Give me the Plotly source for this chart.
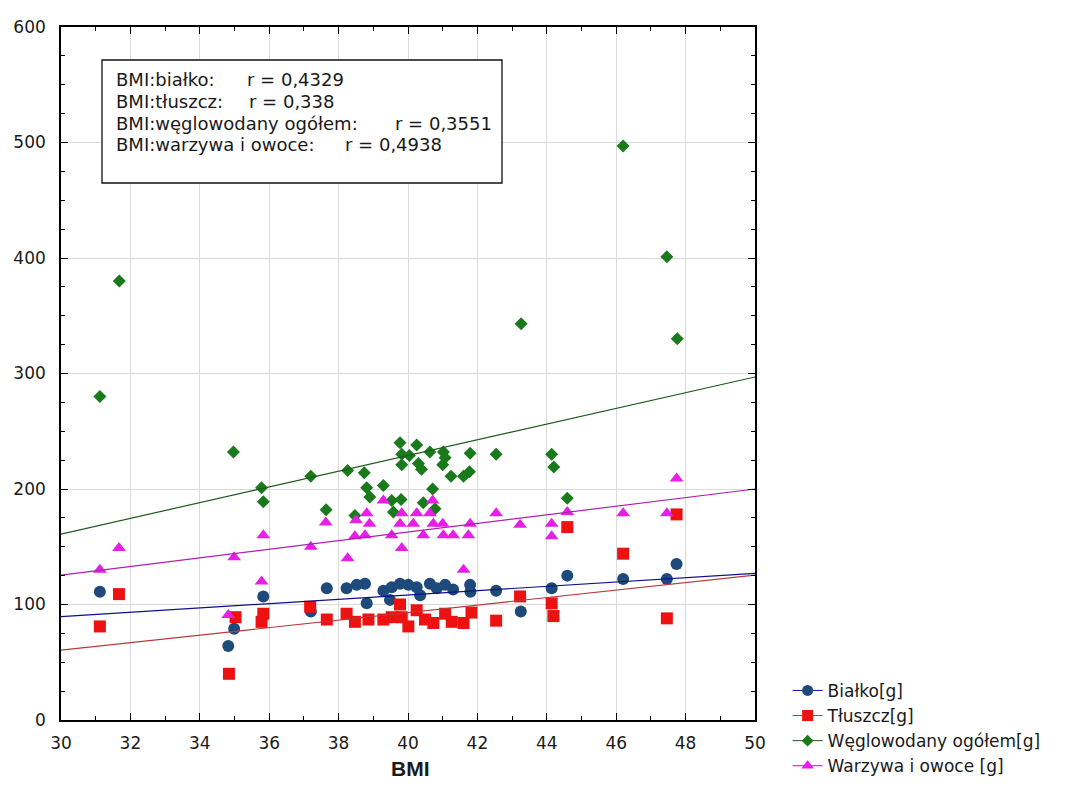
import plotly.graph_objects as go

# ---- data ----
protein_bmi = [31.12, 34.82, 34.99, 35.83, 37.2, 37.66, 38.23, 38.52, 38.76, 38.81, 39.29, 39.48, 39.53, 39.77,
               40.01, 40.25, 40.35, 40.63, 40.83, 41.07, 41.3, 41.79, 41.8, 42.54, 43.25, 44.14, 44.59, 46.2, 47.46, 47.74]
protein_g = [111, 64, 79, 107, 94, 114, 114, 117, 118, 101, 112, 104, 115, 118,
             117, 115, 108, 118, 114, 117, 113, 117, 111, 112, 94, 114, 125, 122, 122, 135]

fat_bmi = [31.12, 31.67, 34.84, 35.03, 35.78, 35.83, 37.18, 37.66, 38.23, 38.47, 38.86, 39.29, 39.53, 39.77, 39.82,
           40.01, 40.25, 40.49, 40.73, 41.07, 41.26, 41.6, 41.83, 42.54, 43.23, 44.14, 44.19, 44.59, 46.2, 47.46, 47.74]
fat_g = [81, 109, 40, 89, 85, 92, 98, 87, 92, 85, 87, 87, 89, 100, 89,
         81, 95, 87, 84, 92, 85, 84, 93, 86, 107, 101, 90, 167, 144, 88, 178]

carb_bmi = [31.12, 31.68, 34.97, 35.78, 35.83, 37.2, 37.64, 38.26, 38.47, 38.74, 38.81, 38.9, 39.29, 39.53, 39.58,
            39.77, 39.8, 39.82, 39.82, 40.04, 40.25, 40.3, 40.39, 40.44, 40.63, 40.71, 40.78, 41.0, 41.02, 41.07,
            41.24, 41.6, 41.77, 41.79, 42.54, 43.26, 44.14, 44.2, 44.59, 46.2, 47.46, 47.76]
carb_g = [280, 380, 232, 201, 189, 211, 182, 216, 177, 214, 201, 193, 203, 190, 180,
          240, 191, 230, 221, 229, 238, 222, 217, 188, 232, 200, 183, 221, 232, 227,
          211, 211, 215, 231, 230, 343, 230, 219, 192, 497, 401, 330]

veg_bmi = [31.12, 31.67, 34.82, 34.99, 35.78, 35.83, 37.2, 37.63, 38.26, 38.47, 38.5, 38.76, 38.81, 38.89, 39.29,
           39.53, 39.77, 39.82, 39.82, 40.15, 40.25, 40.44, 40.63, 40.71, 40.73, 41.0, 41.02, 41.3, 41.6, 41.74,
           41.79, 42.54, 43.23, 44.14, 44.14, 44.59, 46.2, 47.46, 47.74]
veg_g = [130, 149, 91, 141, 120, 160, 150, 171, 140, 159, 173, 160, 179, 170, 190,
         160, 170, 179, 149, 170, 179, 160, 179, 190, 170, 170, 160, 160, 130, 160,
         170, 179, 169, 170, 159, 180, 179, 179, 209]

# fitted regression lines (values at BMI 30 and BMI 50)
fit_bmi = [30, 50]
protein_fit = [89.5, 127]
fat_fit = [60.5, 125.5]
carb_fit = [161, 297]
veg_fit = [125.5, 200]

series_names = ["Białko[g]", "Tłuszcz[g]", "Węglowodany ogółem[g]", "Warzywa i owoce [g]"]
r_labels = ["BMI:białko:", "BMI:tłuszcz:", "BMI:węglowodany ogółem:", "BMI:warzywa i owoce:"]
r_values = ["0,4329", "0,338", "0,3551", "0,4938"]
x_title = "BMI"

x_ticks = [30, 32, 34, 36, 38, 40, 42, 44, 46, 48, 50]
y_ticks = [0, 100, 200, 300, 400, 500, 600]

# ---- styles ----
FONT = "DejaVu Sans, Liberation Sans, sans-serif"
TXT = "#1a1a1a"
styles = [
    dict(symbol="circle", color="#1d4a7a", size=12, line="#0f0f8c"),
    dict(symbol="square", color="#ee1111", size=12, line="#b83a3a"),
    dict(symbol="diamond", color="#197a1c", size=10, line="#1e5a1e"),
    dict(symbol="triangle-up", color="#e61ee6", size=12, line="#b020b0"),
]
xs = [protein_bmi, fat_bmi, carb_bmi, veg_bmi]
ys = [protein_g, fat_g, carb_g, veg_g]
fits = [protein_fit, fat_fit, carb_fit, veg_fit]

fig = go.Figure()
for name, st, x, y in zip(series_names, styles, xs, ys):
    fig.add_trace(go.Scatter(
        x=x, y=y, mode="markers", name=name, legendgroup=name, showlegend=False,
        marker=dict(symbol=st["symbol"], color=st["color"], size=st["size"], line=dict(width=0)),
    ))
for name, st, f in zip(series_names, styles, fits):
    fig.add_trace(go.Scatter(
        x=fit_bmi, y=f, mode="lines", name=name, legendgroup=name, showlegend=False,
        line=dict(color=st["line"], width=1.2), hoverinfo="skip",
    ))
# legend entries (line + marker)
for name, st in zip(series_names, styles):
    fig.add_trace(go.Scatter(
        x=[None], y=[None], mode="lines+markers", name=name, legendgroup=name,
        marker=dict(symbol=st["symbol"], color=st["color"], size=st["size"] - 1),
        line=dict(color=st["line"], width=1),
    ))

# ---- correlation box (plot area: 694 x 693 px) ----
PW, PH = 694.0, 693.0
def px_x(p):
    return p / PW
def px_y(p):
    return 1 - p / PH

fig.add_shape(type="rect", xref="paper", yref="paper",
              x0=px_x(41), x1=px_x(441), y0=px_y(156), y1=px_y(33),
              line=dict(color="#111111", width=1.3), fillcolor="white", layer="above")
label_x = px_x(53)
value_x = [px_x(184), px_x(186), px_x(332), px_x(282)]
for i, (lab, val) in enumerate(zip(r_labels, r_values)):
    yy = px_y(52.5 + i * 21.8)
    fig.add_annotation(xref="paper", yref="paper", x=label_x, y=yy, xanchor="left", yanchor="middle",
                       text=lab, showarrow=False, font=dict(family=FONT, size=18, color=TXT))
    fig.add_annotation(xref="paper", yref="paper", x=value_x[i], y=yy, xanchor="left", yanchor="middle",
                       text="r = " + val, showarrow=False, font=dict(family=FONT, size=18, color=TXT))

# x-axis title
fig.add_annotation(xref="paper", yref="paper", x=0.503, y=px_y(741), xanchor="center", yanchor="middle",
                   text="<b>" + x_title + "</b>", showarrow=False,
                   font=dict(family="Liberation Sans, Arial, sans-serif", size=21, color=TXT))

axis_common = dict(
    showline=True, linecolor="black", linewidth=1.6, mirror="ticks",
    ticks="inside", ticklen=7, tickcolor="black", tickwidth=1,
    showgrid=True, gridcolor="#dadada", gridwidth=1, zeroline=False,
    tickfont=dict(family=FONT, size=17, color=TXT), automargin=False,
)

fig.update_xaxes(
    range=[30, 50], tickvals=x_ticks, ticktext=[str(t) for t in x_ticks],
    minor=dict(ticks="inside", dtick=1, ticklen=4, tickcolor="black", showgrid=False),
    ticklabelstandoff=7,
    **axis_common,
)
fig.update_yaxes(
    range=[0, 600], tickvals=y_ticks, ticktext=[str(t) for t in y_ticks],
    minor=dict(ticks="inside", dtick=25, ticklen=4, tickcolor="black", showgrid=False),
    ticklabelstandoff=10,
    **axis_common,
)

fig.update_layout(
    width=1072, height=805,
    margin=dict(l=53, r=325, t=19, b=93),
    paper_bgcolor="white", plot_bgcolor="white",
    font=dict(family=FONT, size=16, color=TXT),
    legend=dict(x=1.047, y=0.068, xanchor="left", yanchor="top",
                font=dict(family=FONT, size=17, color=TXT),
                tracegroupgap=0, itemwidth=30, bgcolor="rgba(0,0,0,0)"),
    showlegend=True,
)

fig.write_html("out.html")
